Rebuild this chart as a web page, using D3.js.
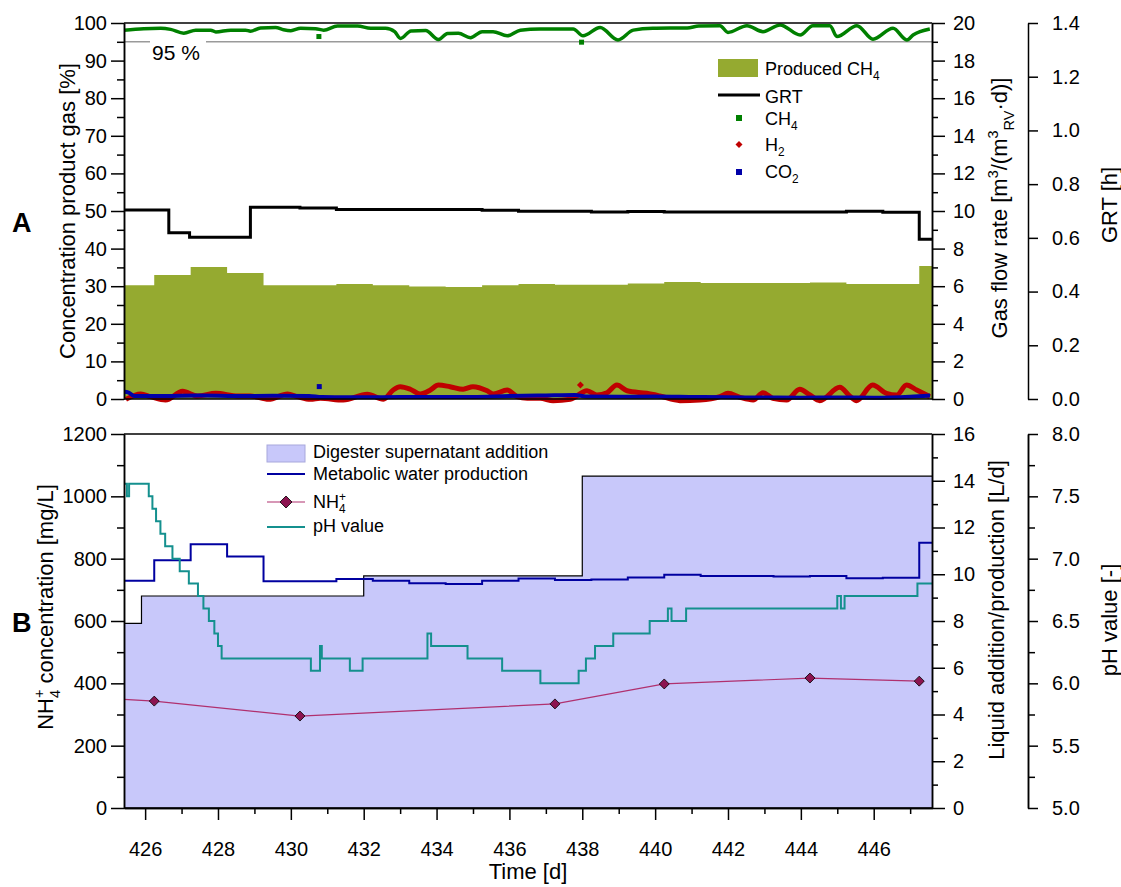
<!DOCTYPE html>
<html><head><meta charset="utf-8">
<script src="https://cdn.jsdelivr.net/npm/d3@7"></script>
<style>
body{margin:0;background:#fff}
svg text{font-family:"Liberation Sans",Arial,Helvetica,sans-serif;fill:#000}
</style>
</head><body>
<svg id="chart" width="1121" height="887"></svg>
<script>
// ---------- Panel A: product gas composition ----------
const ch4Conc = [[425.42,98.1],[425.96,98.5],[426.43,98.6],[426.7,98.3],[427.06,97.3],[427.39,98.1],[427.8,98.1],[427.94,97.6],[428.35,98.1],[428.76,98.1],[428.89,97.8],[429.17,98.7],[429.58,98.8],[429.8,98.2],[430.0,97.96],[430.27,98.6],[430.68,98.5],[430.9,98.1],[431.28,99.2],[431.83,99.2],[432.19,98.6],[432.6,98.6],[432.85,97.7],[433.01,95.9],[433.3,97.9],[433.7,98.0],[434.05,95.6],[434.3,97.2],[434.6,97.3],[434.93,96.1],[435.25,97.7],[435.55,97.7],[435.94,96.6],[436.3,98.1],[436.84,98.4],[437.39,98.4],[437.75,98.4],[438.02,96.6],[438.49,98.8],[438.98,95.5],[439.4,98.1],[439.94,98.6],[440.88,98.7],[441.2,99.2],[441.78,99.3],[442.0,97.5],[442.52,99.3],[442.96,97.7],[443.43,99.5],[443.98,96.8],[444.33,99.3],[444.8,99.3],[444.99,96.4],[445.54,99.3],[445.98,95.7],[446.53,98.6],[446.91,95.5],[447.08,96.8],[447.54,98.4]];
const ch4Outliers = [[430.77,96.4],[437.98,94.9]];
const h2Conc = [[425.47,-0.09],[425.88,1.33],[426.15,0.62],[426.56,-0.27],[427.03,2.04],[427.44,0.8],[427.94,1.51],[428.54,0.8],[428.89,0.8],[429.39,-0.09],[429.91,1.33],[430.18,0.62],[430.54,-0.09],[430.81,0.18],[431.44,-0.27],[432.1,1.24],[432.54,-0.09],[432.81,2.4],[433.0,3.28],[433.28,2.6],[433.55,1.33],[433.83,2.4],[434.05,3.72],[434.37,3.28],[434.73,2.6],[435.0,3.28],[435.39,2.2],[435.56,1.33],[435.94,2.4],[436.21,0.62],[436.49,0.18],[436.84,0.18],[437.2,-0.44],[437.67,-0.09],[438.13,2.2],[438.4,1.06],[438.68,1.68],[438.95,3.72],[439.23,2.2],[439.77,1.51],[440.13,0.8],[440.68,-0.44],[441.23,-0.27],[441.78,0.62],[442.0,1.51],[442.33,0.44],[442.69,-0.27],[442.96,1.68],[443.23,0.18],[443.61,-0.27],[443.97,2.6],[444.25,1.06],[444.52,-0.44],[445.07,3.1],[445.34,0.8],[445.53,-0.44],[445.97,3.72],[446.35,1.51],[446.63,1.06],[446.9,3.72],[447.18,2.4],[447.54,0.62]];
const h2Outliers = [[437.95,3.7]];
const co2Conc = [[425.42,1.9],[425.55,1.7],[425.7,0.8],[426.5,0.8],[427.5,0.9],[428.5,0.8],[429.5,0.85],[430.5,0.8],[430.85,0.5],[432.0,0.45],[433.0,0.5],[434.0,0.5],[435.0,0.55],[436.0,0.8],[437.0,0.95],[437.8,1.05],[438.1,0.65],[439.0,0.6],[440.0,0.65],[441.0,0.55],[442.0,0.45],[443.0,0.4],[444.0,0.35],[445.0,0.4],[446.0,0.35],[447.0,0.6],[447.55,0.9]];
const co2Outliers = [[430.78,3.3]];
// daily produced CH4 [m3/(m3_RV d)], value holds from the given day onwards
const producedCh4 = [[425.25,6.05],[426.25,6.6],[427.25,7.02],[428.25,6.7],[429.25,6.05],[430.25,6.05],[431.25,6.12],[432.25,6.05],[433.25,5.99],[434.25,5.96],[435.25,6.05],[436.25,6.12],[437.25,6.08],[438.25,6.08],[439.25,6.15],[440.25,6.22],[441.25,6.17],[442.25,6.17],[443.25,6.17],[444.25,6.2],[445.25,6.12],[446.25,6.12],[447.25,7.07]];
// gas retention time [h]
const grt = [[425.25,0.704],[426.65,0.619],[427.22,0.602],[428.89,0.714],[430.25,0.711],[431.25,0.706],[435.25,0.703],[436.25,0.699],[438.25,0.696],[439.25,0.698],[440.25,0.696],[445.25,0.699],[446.25,0.695],[447.25,0.595]];
const ch4Limit = 95;

// ---------- Panel B: liquid phase ----------
const supernatant = [[425.42,7.9],[425.9,9.07],[432.0,9.93],[438.0,14.2]];
const metabolicWater = [[425.25,9.72],[426.25,10.6],[427.25,11.28],[428.25,10.76],[429.25,9.7],[430.25,9.7],[431.25,9.8],[432.25,9.72],[433.25,9.62],[434.25,9.58],[435.25,9.72],[436.25,9.82],[437.25,9.75],[438.25,9.78],[439.25,9.86],[440.25,9.98],[441.25,9.92],[442.25,9.92],[443.25,9.9],[444.25,9.92],[445.25,9.83],[446.25,9.85],[447.25,11.35]];
const nh4Days = [423.25,426.25,430.25,437.25,440.25,444.25,447.25];
const nh4Values = [362,343,295,334,398,417,407];
const phValue = [[425.42,7.6],[425.5,7.5],[425.56,7.6],[426.1,7.5],[426.2,7.4],[426.3,7.3],[426.42,7.2],[426.55,7.1],[426.75,7.0],[426.95,6.9],[427.2,6.8],[427.45,6.7],[427.6,6.6],[427.75,6.5],[427.9,6.4],[428.0,6.3],[428.1,6.2],[430.55,6.1],[430.8,6.3],[430.85,6.2],[431.62,6.1],[431.97,6.2],[433.75,6.4],[433.85,6.3],[434.85,6.2],[435.8,6.1],[436.85,6.0],[437.9,6.1],[438.1,6.2],[438.35,6.3],[438.85,6.4],[439.85,6.5],[440.35,6.6],[440.45,6.5],[440.85,6.6],[445.0,6.7],[445.1,6.6],[445.2,6.7],[447.2,6.8]];

// ---------- Axis ticks ----------
const dayMajor = [426,428,430,432,434,436,438,440,442,444,446];
const dayMinor = [427,429,431,433,435,437,439,441,443,445,447];
const concMajor = [0,10,20,30,40,50,60,70,80,90,100];
const gasMajor = [0,2,4,6,8,10,12,14,16,18,20];
const grtMajor = [0,0.2,0.4,0.6,0.8,1.0,1.2,1.4];
const nh4Major = [0,200,400,600,800,1000,1200];
const liqMajor = [0,2,4,6,8,10,12,14,16];
const phMajor = [5.0,5.5,6.0,6.5,7.0,7.5,8.0];

const COL = {
  olive:"#95aa30", ch4:"#008000", h2:"#c00000", co2:"#0000a8",
  purple:"#c8c8fa", metab:"#0000a0", ph:"#14908e", nh4:"#b0306e", nh4Mark:"#8c1450"
};

const svg = d3.select("#chart");
const L = 124, R = 932, AX3 = 1028;
const A_TOP = 23, A_BOT = 399, B_TOP = 434, B_BOT = 808;
const TICK_FS = 20, TITLE_FS = 22, LEG_FS = 18;

const x = d3.scaleLinear().domain([425.42, 447.6]).range([L, R]);
const xEnd = x.domain()[1];
const yConc = d3.scaleLinear().domain([0,100]).range([A_BOT, A_TOP]);
const yGas = d3.scaleLinear().domain([0,20]).range([A_BOT, A_TOP]);
const yGrt = d3.scaleLinear().domain([0,1.4]).range([A_BOT, A_TOP]);
const yNh4 = d3.scaleLinear().domain([0,1200]).range([B_BOT, B_TOP]);
const yLiq = d3.scaleLinear().domain([0,16]).range([B_BOT, B_TOP]);
const yPh = d3.scaleLinear().domain([5,8]).range([B_BOT, B_TOP]);

const defs = svg.append("defs");
defs.append("clipPath").attr("id","clipA").append("rect").attr("x",L).attr("y",A_TOP-6).attr("width",R-L).attr("height",A_BOT-A_TOP+12);
defs.append("clipPath").attr("id","clipAx").append("rect").attr("x",L).attr("y",A_TOP).attr("width",R-L).attr("height",A_BOT-A_TOP);
defs.append("clipPath").attr("id","clipB").append("rect").attr("x",L).attr("y",B_TOP).attr("width",R-L).attr("height",B_BOT-B_TOP);

const withEnd = arr => arr.concat([[xEnd, arr[arr.length-1][1]]]);

function rich(sel, parts, fs){
  let shift = 0;
  parts.forEach(p=>{
    const ts = sel.append("tspan").text(p.t);
    const target = p.sup ? -0.4*fs : p.sub ? 0.3*fs : 0;
    ts.attr("dy", target - shift);
    shift = target;
    if (p.sup || p.sub) ts.attr("font-size", 0.66*fs);
    if (p.dx) ts.attr("dx", p.dx);
  });
  return sel;
}

// ================= Panel A =================
const gA = svg.append("g").attr("clip-path","url(#clipAx)");
gA.append("path").datum(withEnd(producedCh4))
  .attr("fill",COL.olive)
  .attr("d", d3.area().curve(d3.curveStepAfter).x(d=>x(d[0])).y0(yGas(0)).y1(d=>yGas(d[1])));
gA.append("path").datum(withEnd(grt))
  .attr("fill","none").attr("stroke","#000").attr("stroke-width",3)
  .attr("d", d3.line().curve(d3.curveStepAfter).x(d=>x(d[0])).y(d=>yGrt(d[1])));

// 95 % reference line with its label
svg.append("line").attr("x1",L).attr("x2",R).attr("y1",yConc(ch4Limit)).attr("y2",yConc(ch4Limit))
  .attr("stroke","#9a9a9a").attr("stroke-width",1.5);
svg.append("rect").attr("x",150).attr("y",yConc(ch4Limit)-2).attr("width",56).attr("height",22).attr("fill","#fff");
svg.append("text").attr("x",152).attr("y",60).attr("font-size",21).text(ch4Limit + " %");

const gA2 = svg.append("g").attr("clip-path","url(#clipA)");
const concLine = d3.line().curve(d3.curveMonotoneX).x(d=>x(d[0])).y(d=>yConc(d[1]));
gA2.append("path").datum(ch4Conc).attr("fill","none").attr("stroke",COL.ch4).attr("stroke-width",3.5).attr("stroke-linejoin","round").attr("d",concLine);
gA2.selectAll(".ch4o").data(ch4Outliers).join("rect").attr("fill",COL.ch4)
  .attr("x",d=>x(d[0])-2.5).attr("y",d=>yConc(d[1])-2.5).attr("width",5).attr("height",5);
gA2.append("path").datum(h2Conc).attr("fill","none").attr("stroke",COL.h2).attr("stroke-width",5).attr("stroke-linejoin","round").attr("d",concLine);
gA2.selectAll(".h2o").data(h2Outliers).join("path").attr("fill",COL.h2)
  .attr("d",d=>`M${x(d[0])},${yConc(d[1])-3.5}l3.5,3.5l-3.5,3.5l-3.5,-3.5z`);
gA2.append("path").datum(co2Conc).attr("fill","none").attr("stroke",COL.co2).attr("stroke-width",4).attr("stroke-linejoin","round").attr("d",concLine);
gA2.selectAll(".co2o").data(co2Outliers).join("rect").attr("fill",COL.co2)
  .attr("x",d=>x(d[0])-2.5).attr("y",d=>yConc(d[1])-2.5).attr("width",5).attr("height",5);

// ================= Panel B =================
const gB = svg.append("g").attr("clip-path","url(#clipB)");
const supStep = withEnd(supernatant);
gB.append("path").datum(supStep).attr("fill",COL.purple)
  .attr("d", d3.area().curve(d3.curveStepAfter).x(d=>x(d[0])).y0(yLiq(0)).y1(d=>yLiq(d[1])));
gB.append("path").datum(supStep).attr("fill","none").attr("stroke","#000").attr("stroke-width",1.2)
  .attr("d", d3.line().curve(d3.curveStepAfter).x(d=>x(d[0])).y(d=>yLiq(d[1])));
gB.append("path").datum(withEnd(metabolicWater)).attr("fill","none").attr("stroke",COL.metab).attr("stroke-width",2)
  .attr("d", d3.line().curve(d3.curveStepAfter).x(d=>x(d[0])).y(d=>yLiq(d[1])));
gB.append("path").datum(withEnd(phValue)).attr("fill","none").attr("stroke",COL.ph).attr("stroke-width",2)
  .attr("d", d3.line().curve(d3.curveStepAfter).x(d=>x(d[0])).y(d=>yPh(d[1])));
const nh4 = nh4Days.map((d,i)=>[d, nh4Values[i]]);
gB.append("path").datum(nh4).attr("fill","none").attr("stroke",COL.nh4).attr("stroke-width",1.2)
  .attr("d", d3.line().x(d=>x(d[0])).y(d=>yNh4(d[1])));
gB.selectAll(".nh4m").data(nh4).join("path").attr("fill",COL.nh4Mark).attr("stroke","#000").attr("stroke-width",0.8)
  .attr("d",d=>`M${x(d[0])},${yNh4(d[1])-5}l5,5l-5,5l-5,-5z`);

// ================= Frames & axes =================
function styleAxis(g){
  g.selectAll("path.domain").attr("stroke","#000").attr("stroke-width",1.5);
  g.selectAll(".tick line").attr("stroke","#000").attr("stroke-width",1.5);
  g.selectAll(".tick text").attr("font-size",TICK_FS).attr("font-family",'"Liberation Sans",Arial,sans-serif').attr("fill","#000");
}
function addAxis(gen, tx, ty){
  const g = svg.append("g").attr("transform",`translate(${tx},${ty})`).call(gen);
  styleAxis(g); return g;
}
function minors(majors){
  const out = [];
  for (let i=0;i<majors.length-1;i++) out.push((majors[i]+majors[i+1])/2);
  return out;
}
function frame(y0,y1){
  svg.append("line").attr("x1",L).attr("x2",R).attr("y1",y0).attr("y2",y0).attr("stroke","#000").attr("stroke-width",1.5);
  svg.append("line").attr("x1",L).attr("x2",R).attr("y1",y1).attr("y2",y1).attr("stroke","#000").attr("stroke-width",1.5);
}
frame(A_TOP, A_BOT);
frame(B_TOP, B_BOT);
const intFmt = d3.format("d");

// Panel A axes
addAxis(d3.axisLeft(yConc).tickValues(minors(concMajor)).tickSize(7).tickFormat("").tickSizeOuter(0), L, 0);
addAxis(d3.axisLeft(yConc).tickValues(concMajor).tickSize(13).tickPadding(4).tickFormat(intFmt).tickSizeOuter(0), L, 0);
addAxis(d3.axisRight(yGas).tickValues(minors(gasMajor)).tickSize(6).tickFormat("").tickSizeOuter(0), R, 0);
addAxis(d3.axisRight(yGas).tickValues(gasMajor).tickSize(13).tickPadding(8).tickFormat(intFmt).tickSizeOuter(0), R, 0);
addAxis(d3.axisRight(yGrt).tickValues(grtMajor).tickSize(10).tickPadding(14).tickFormat(d3.format(".1f")).tickSizeOuter(0), AX3, 0);

// Panel B axes
addAxis(d3.axisLeft(yNh4).tickValues(minors(nh4Major)).tickSize(7).tickFormat("").tickSizeOuter(0), L, 0);
addAxis(d3.axisLeft(yNh4).tickValues(nh4Major).tickSize(13).tickPadding(4).tickFormat(intFmt).tickSizeOuter(0), L, 0);
addAxis(d3.axisRight(yLiq).tickValues(minors(liqMajor)).tickSize(6).tickFormat("").tickSizeOuter(0), R, 0);
addAxis(d3.axisRight(yLiq).tickValues(liqMajor).tickSize(13).tickPadding(8).tickFormat(intFmt).tickSizeOuter(0), R, 0);
addAxis(d3.axisRight(yPh).tickValues(minors(phMajor)).tickSize(7).tickFormat("").tickSizeOuter(0), AX3, 0);
addAxis(d3.axisRight(yPh).tickValues(phMajor).tickSize(10).tickPadding(14).tickFormat(d3.format(".1f")).tickSizeOuter(0), AX3, 0);
addAxis(d3.axisBottom(x).tickValues(dayMinor).tickSize(6).tickFormat("").tickSizeOuter(0), 0, B_BOT);
addAxis(d3.axisBottom(x).tickValues(dayMajor).tickSize(12).tickPadding(22).tickFormat(intFmt).tickSizeOuter(0), 0, B_BOT);

// ================= Titles =================
function vTitle(tx, ty, parts){
  const t = svg.append("text").attr("transform",`translate(${tx},${ty}) rotate(-90)`)
    .attr("text-anchor","middle").attr("font-size",TITLE_FS);
  rich(t, parts, TITLE_FS);
}
vTitle(75, 211, [{t:"Concentration product gas [%]"}]);
vTitle(1007, 208, [{t:"Gas flow rate [m"},{t:"3",sup:true},{t:"/(m"},{t:"3",sup:true},{t:"RV",sub:true},{t:"·d)]"}]);
vTitle(1117, 205, [{t:"GRT [h]"}]);
vTitle(53, 607, [{t:"NH"},{t:"4",sub:true},{t:"+",sup:true,dx:-0.66*TITLE_FS*0.556},{t:" concentration [mg/L]"}]);
vTitle(1004, 610, [{t:"Liquid addition/production [L/d]"}]);
vTitle(1117, 620, [{t:"pH value [-]"}]);
svg.append("text").attr("x",(L+R)/2).attr("y",879).attr("text-anchor","middle").attr("font-size",TITLE_FS).text("Time [d]");
svg.append("text").attr("x",12).attr("y",232).attr("font-size",27).attr("font-weight","bold").text("A");
svg.append("text").attr("x",12).attr("y",632).attr("font-size",27).attr("font-weight","bold").text("B");

// ================= Legends =================
const lgA = svg.append("g");
lgA.append("rect").attr("x",718).attr("y",59).attr("width",40).attr("height",18).attr("fill",COL.olive);
rich(lgA.append("text").attr("x",765).attr("y",75).attr("font-size",LEG_FS), [{t:"Produced CH"},{t:"4",sub:true}], LEG_FS);
lgA.append("line").attr("x1",718).attr("x2",760).attr("y1",95).attr("y2",95).attr("stroke","#000").attr("stroke-width",3);
lgA.append("text").attr("x",765).attr("y",103).attr("font-size",LEG_FS).text("GRT");
lgA.append("rect").attr("x",736).attr("y",115).attr("width",6).attr("height",6).attr("fill",COL.ch4);
rich(lgA.append("text").attr("x",765).attr("y",125).attr("font-size",LEG_FS), [{t:"CH"},{t:"4",sub:true}], LEG_FS);
lgA.append("path").attr("d","M739,141l3.5,3.5l-3.5,3.5l-3.5,-3.5z").attr("fill",COL.h2);
rich(lgA.append("text").attr("x",765).attr("y",151).attr("font-size",LEG_FS), [{t:"H"},{t:"2",sub:true}], LEG_FS);
lgA.append("rect").attr("x",736).attr("y",169).attr("width",6).attr("height",6).attr("fill",COL.co2);
rich(lgA.append("text").attr("x",765).attr("y",178).attr("font-size",LEG_FS), [{t:"CO"},{t:"2",sub:true}], LEG_FS);

const lgB = svg.append("g");
lgB.append("rect").attr("x",267).attr("y",445).attr("width",38).attr("height",17).attr("fill",COL.purple).attr("stroke","#a8a8dc");
lgB.append("text").attr("x",313).attr("y",458).attr("font-size",LEG_FS).text("Digester supernatant addition");
lgB.append("line").attr("x1",267).attr("x2",305).attr("y1",474).attr("y2",474).attr("stroke",COL.metab).attr("stroke-width",2);
lgB.append("text").attr("x",313).attr("y",480).attr("font-size",LEG_FS).text("Metabolic water production");
lgB.append("line").attr("x1",267).attr("x2",305).attr("y1",502).attr("y2",502).attr("stroke",COL.nh4).attr("stroke-width",1.2);
lgB.append("path").attr("d","M286,496l6,6l-6,6l-6,-6z").attr("fill",COL.nh4Mark).attr("stroke","#000").attr("stroke-width",0.8);
rich(lgB.append("text").attr("x",313).attr("y",508).attr("font-size",LEG_FS),
  [{t:"NH"},{t:"4",sub:true},{t:"+",sup:true,dx:-0.66*LEG_FS*0.556}], LEG_FS);
lgB.append("line").attr("x1",267).attr("x2",305).attr("y1",527).attr("y2",527).attr("stroke",COL.ph).attr("stroke-width",2);
lgB.append("text").attr("x",313).attr("y",532).attr("font-size",LEG_FS).text("pH value");
</script>
</body></html>
